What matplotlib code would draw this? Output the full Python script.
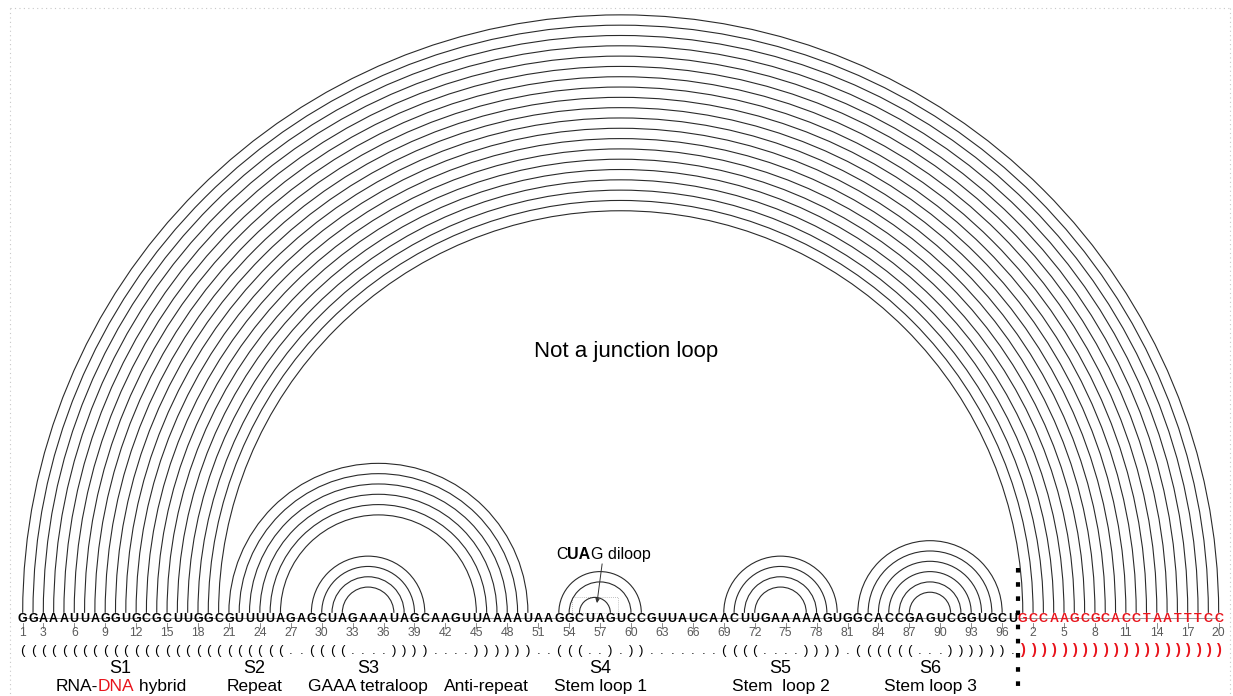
import matplotlib
matplotlib.use("Agg")
import matplotlib.pyplot as plt
from matplotlib.patches import Arc, Rectangle
from matplotlib.lines import Line2D
from matplotlib.transforms import offset_copy

plt.rcParams["font.family"] = ["Liberation Sans", "DejaVu Sans"]

# sgRNA (spacer + scaffold) and the target DNA strand
rna_seq = "GGAAAUUAGGUGCGCUUGGC" + "GUUUUAGAGCUAGAAAUAGCAAGUUAAAAUAAGGCUAGUCCGUUAUCAACUUGAAAAAGUGGCACCGAGUCGGUGCU"
dna_seq = "GCCAAGCGCACCTAATTTCC"
rna_struct = ("((((((((((((((((((((" "((((((" ".." "((((" "...." "))))" "...." "))))))"
              ".." "(((" ".." ")" "." "))" "......." "((((" "...." "))))" "."
              "((((((" "..." "))))))" ".")
dna_struct = "))))))))))))))))))))"

rna_ticks = [1] + list(range(3, 97, 3))
dna_ticks = [2, 5, 8, 11, 14, 17, 20]

# section labels: (top label, bottom label, first nt, last nt)
sections = [
    ("S1", None, 1, 20),
    ("S2", "Repeat", 21, 26),
    ("S3", "GAAA tetraloop", 29, 40),
    ("", "Anti-repeat", 42, 50),
    ("S4", "Stem loop 1", 53, 61),
    ("S5", "Stem  loop 2", 69, 80),
    ("S6", "Stem loop 3", 82, 96),
]

RED = "#e8141c"
ARC = "#2b2b2b"

W, H = 1233, 696
UNIT = 10.31  # pixels per nucleotide
x0 = 1 - 22.7 / UNIT
y_top = 618 / UNIT
y_bot = -(H - 618) / UNIT

fig = plt.figure(figsize=(W / 100, H / 100), dpi=100)
ax = fig.add_axes([0, 0, 1, 1])
ax.set_xlim(x0, x0 + W / UNIT)
ax.set_ylim(y_bot, y_top)
ax.axis("off")

seq = rna_seq + dna_seq
struct = rna_struct + dna_struct
n_rna = len(rna_seq)

# pairs from dot-bracket
stack, pairs = [], []
for i, c in enumerate(struct, start=1):
    if c == "(":
        stack.append(i)
    elif c == ")":
        pairs.append((stack.pop(), i))

base = 0.5
for i, j in pairs:
    w = j - i
    ax.add_patch(Arc(((i + j) / 2, base), w, w, theta1=0, theta2=180,
                     color=ARC, lw=0.8, zorder=2))

# backbone
ax.plot([1, len(seq)], [0, 0], color="#888888", lw=0.6, zorder=1)

# letters
for k, ch in enumerate(seq, start=1):
    col = "black" if k <= n_rna else RED
    ax.text(k, -0.43, ch, ha="center", va="baseline", fontsize=9,
            fontweight="bold", color=col, zorder=3)

# position ticks and numbers
tick_pos = [(t, str(t)) for t in rna_ticks] + [(n_rna + t, str(t)) for t in dna_ticks]
for p, lab in tick_pos:
    ax.plot([p, p], [-0.5, -0.95], color="#777777", lw=0.6)
    ax.text(p, -1.78, lab, ha="center", va="baseline", fontsize=8.8, color="#5a5a5a")

# dot-bracket row
for k, ch in enumerate(struct, start=1):
    if k <= n_rna:
        ax.text(k, -3.49, ch, ha="center", va="baseline", fontsize=9.5, color="black")
    else:
        ax.text(k, -3.49, ch, ha="center", va="baseline", fontsize=10.5,
                fontweight="bold", color=RED)

renderer = fig.canvas.get_renderer()


def text_width(s, **kw):
    t = ax.text(0, 0, s, **kw)
    w = t.get_window_extent(renderer).width
    t.remove()
    return w


def rich_text(x, y, pieces, **kw):
    # offsets measured as advance of previous piece (kerned with next char)
    offsets = [0.0]
    for (s_prev, st_prev), (s_next, _) in zip(pieces[:-1], pieces[1:]):
        lead = len(s_next) - len(s_next.lstrip())
        nxt = s_next[:lead + 1]
        adv = text_width(s_prev + nxt, **kw, **st_prev) - text_width(nxt, **kw, **st_prev)
        offsets.append(offsets[-1] + adv)
    total = offsets[-1] + text_width(pieces[-1][0], **kw, **pieces[-1][1])
    for (s, st), off in zip(pieces, offsets):
        tr = offset_copy(ax.transData, fig=fig, x=off - total / 2, y=0, units="dots")
        ax.text(x, y, s, ha="left", va="baseline", transform=tr, **kw, **st)


# section labels
for top, bottom, a, b in sections:
    cx = (a + b) / 2
    if top:
        ax.text(cx, -5.3, top, ha="center", va="baseline", fontsize=13)
    if bottom:
        ax.text(cx, -7.05, bottom, ha="center", va="baseline", fontsize=12.5)
rich_text(10.5, -7.05, [("RNA-", {}), ("DNA", {"color": RED}), (" hybrid", {})],
          fontsize=12.5)

# annotations
ax.text(59.5, 25.3, "Not a junction loop", ha="center", va="baseline", fontsize=16)
rich_text(57.3, 5.75, [("C", {}), ("UA", {"fontweight": "bold"}), ("G diloop", {})],
          fontsize=11.5)
ax.annotate("", xy=(56.7, 1.45), xytext=(57.2, 5.25),
            arrowprops=dict(arrowstyle="-|>", lw=0.7, color="#333333",
                            mutation_scale=6, shrinkA=0, shrinkB=0))
ax.add_patch(Rectangle((54.3, 0.5), 4.4, 1.5, fill=False, ls=(0, (1, 1.5)),
                       lw=0.6, ec="#aaaaaa", zorder=1))

# RNA / DNA divider
ax.plot([n_rna + 0.5, n_rna + 0.5], [4.85, y_bot + 0.4], color="black", lw=3,
        ls=(0, (1.1, 2.3)), dash_capstyle="butt")

# dotted frame
for xs, ys in [([10, 1230], [H - 8, H - 8]), ([10, 10], [H - 8, 0]), ([1230, 1230], [H - 8, 0])]:
    fig.add_artist(Line2D([x / W for x in xs], [y / H for y in ys], color="#c8c8c8",
                          lw=0.8, ls=(0, (1, 3))))

fig.savefig("out.png", dpi=100)
